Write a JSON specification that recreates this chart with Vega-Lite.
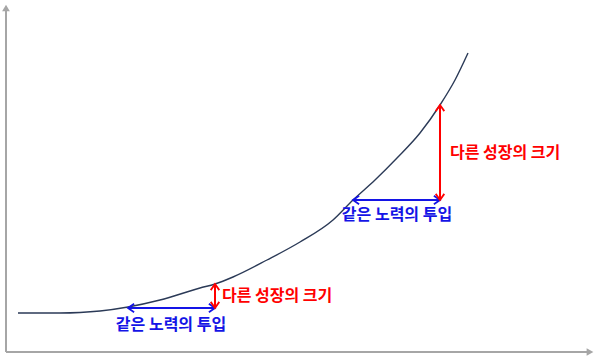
{
  "$schema": "https://vega.github.io/schema/vega-lite/v6.json",
  "width": 600,
  "height": 357,
  "padding": 0,
  "autosize": {"type": "none"},
  "background": "white",
  "config": {"view": {"stroke": null}},
  "datasets": {
    "curve": [
      {"x": 18, "y": 44}, {"x": 60, "y": 44}, {"x": 80, "y": 44.5}, {"x": 100, "y": 46},
      {"x": 128, "y": 50}, {"x": 160, "y": 57}, {"x": 200, "y": 69}, {"x": 215, "y": 73},
      {"x": 233, "y": 80}, {"x": 267, "y": 97}, {"x": 300, "y": 115}, {"x": 333, "y": 137},
      {"x": 353, "y": 157}, {"x": 375, "y": 177}, {"x": 397, "y": 199}, {"x": 420, "y": 224},
      {"x": 440, "y": 252}, {"x": 455, "y": 277}, {"x": 468, "y": 304}
    ],
    "axes": [
      {"x": 6, "y": 5, "x2": 6, "y2": 347},
      {"x": 6, "y": 5, "x2": 588, "y2": 5}
    ],
    "axisHeads": [
      {"x": 6, "y": 349, "dir": "up"},
      {"x": 590, "y": 5, "dir": "right"}
    ],
    "arrows": [
      {"x": 128, "y": 49, "x2": 215, "y2": 49, "kind": "effort"},
      {"x": 353, "y": 157, "x2": 440, "y2": 157, "kind": "effort"},
      {"x": 215, "y": 49, "x2": 215, "y2": 73, "kind": "growth"},
      {"x": 440, "y": 157, "x2": 440, "y2": 252, "kind": "growth"}
    ],
    "heads": [
      {"x": 128, "y": 49, "dir": "left", "kind": "effort"},
      {"x": 215, "y": 49, "dir": "right", "kind": "effort"},
      {"x": 353, "y": 157, "dir": "left", "kind": "effort"},
      {"x": 440, "y": 157, "dir": "right", "kind": "effort"},
      {"x": 215, "y": 49, "dir": "down", "kind": "growth"},
      {"x": 215, "y": 73, "dir": "up", "kind": "growth"},
      {"x": 440, "y": 157, "dir": "down", "kind": "growth"},
      {"x": 440, "y": 252, "dir": "up", "kind": "growth"}
    ],
    "labels": [
      {"x": 222, "y": 61, "text": "다른 성장의 크기", "kind": "growth"},
      {"x": 450, "y": 204, "text": "다른 성장의 크기", "kind": "growth"},
      {"x": 171, "y": 32, "text": "같은 노력의 투입", "kind": "effort"},
      {"x": 397, "y": 142, "text": "같은 노력의 투입", "kind": "effort"}
    ]
  },
  "layer": [
    {
      "data": {"name": "axes"},
      "mark": {"type": "rule", "color": "#a6a6a6", "strokeWidth": 2},
      "encoding": {
        "x": {"field": "x", "type": "quantitative", "scale": {"domain": [0, 600], "nice": false, "zero": false}, "axis": null},
        "y": {"field": "y", "type": "quantitative", "scale": {"domain": [0, 357], "nice": false, "zero": false}, "axis": null},
        "x2": {"field": "x2"},
        "y2": {"field": "y2"}
      }
    },
    {
      "data": {"name": "axisHeads"},
      "mark": {"type": "point", "filled": true, "color": "#a6a6a6", "opacity": 1, "size": 60},
      "encoding": {
        "x": {"field": "x", "type": "quantitative"},
        "y": {"field": "y", "type": "quantitative"},
        "shape": {"field": "dir", "type": "nominal", "scale": {"domain": ["up", "right"], "range": ["triangle-up", "triangle-right"]}, "legend": null}
      }
    },
    {
      "data": {"name": "curve"},
      "mark": {"type": "line", "color": "#2b3a57", "strokeWidth": 1.4, "interpolate": "monotone"},
      "encoding": {
        "x": {"field": "x", "type": "quantitative"},
        "y": {"field": "y", "type": "quantitative"}
      }
    },
    {
      "data": {"name": "arrows"},
      "mark": {"type": "rule", "strokeWidth": 2},
      "encoding": {
        "x": {"field": "x", "type": "quantitative"},
        "y": {"field": "y", "type": "quantitative"},
        "x2": {"field": "x2"},
        "y2": {"field": "y2"},
        "color": {"field": "kind", "type": "nominal", "scale": {"domain": ["effort", "growth"], "range": ["#1414e6", "#ff0000"]}, "legend": null}
      }
    },
    {
      "data": {"name": "heads"},
      "transform": [{"filter": "datum.dir === 'right'"}],
      "mark": {"type": "point", "shape": "M-1,-0.7L0,0L-1,0.7", "filled": false, "strokeWidth": 1.8, "opacity": 1, "size": 150},
      "encoding": {
        "x": {"field": "x", "type": "quantitative"},
        "y": {"field": "y", "type": "quantitative"},
        "color": {"field": "kind", "type": "nominal", "scale": {"domain": ["effort", "growth"], "range": ["#1414e6", "#ff0000"]}, "legend": null}
      }
    },
    {
      "data": {"name": "heads"},
      "transform": [{"filter": "datum.dir === 'left'"}],
      "mark": {"type": "point", "shape": "M1,-0.7L0,0L1,0.7", "filled": false, "strokeWidth": 1.8, "opacity": 1, "size": 150},
      "encoding": {
        "x": {"field": "x", "type": "quantitative"},
        "y": {"field": "y", "type": "quantitative"},
        "color": {"field": "kind", "type": "nominal", "scale": {"domain": ["effort", "growth"], "range": ["#1414e6", "#ff0000"]}, "legend": null}
      }
    },
    {
      "data": {"name": "heads"},
      "transform": [{"filter": "datum.dir === 'up'"}],
      "mark": {"type": "point", "shape": "M-0.7,1L0,0L0.7,1", "filled": false, "strokeWidth": 1.8, "opacity": 1, "size": 150},
      "encoding": {
        "x": {"field": "x", "type": "quantitative"},
        "y": {"field": "y", "type": "quantitative"},
        "color": {"field": "kind", "type": "nominal", "scale": {"domain": ["effort", "growth"], "range": ["#1414e6", "#ff0000"]}, "legend": null}
      }
    },
    {
      "data": {"name": "heads"},
      "transform": [{"filter": "datum.dir === 'down'"}],
      "mark": {"type": "point", "shape": "M-0.7,-1L0,0L0.7,-1", "filled": false, "strokeWidth": 1.8, "opacity": 1, "size": 150},
      "encoding": {
        "x": {"field": "x", "type": "quantitative"},
        "y": {"field": "y", "type": "quantitative"},
        "color": {"field": "kind", "type": "nominal", "scale": {"domain": ["effort", "growth"], "range": ["#1414e6", "#ff0000"]}, "legend": null}
      }
    },
    {
      "data": {"name": "labels"},
      "transform": [{"filter": "datum.kind === 'growth'"}],
      "mark": {"type": "text", "align": "left", "baseline": "middle", "font": "Noto Sans CJK KR", "fontSize": 16, "fontWeight": "bold"},
      "encoding": {
        "x": {"field": "x", "type": "quantitative"},
        "y": {"field": "y", "type": "quantitative"},
        "text": {"field": "text"},
        "color": {"field": "kind", "type": "nominal", "scale": {"domain": ["effort", "growth"], "range": ["#1414e6", "#ff0000"]}, "legend": null}
      }
    },
    {
      "data": {"name": "labels"},
      "transform": [{"filter": "datum.kind === 'effort'"}],
      "mark": {"type": "text", "align": "center", "baseline": "middle", "font": "Noto Sans CJK KR", "fontSize": 16, "fontWeight": "bold"},
      "encoding": {
        "x": {"field": "x", "type": "quantitative"},
        "y": {"field": "y", "type": "quantitative"},
        "text": {"field": "text"},
        "color": {"field": "kind", "type": "nominal", "scale": {"domain": ["effort", "growth"], "range": ["#1414e6", "#ff0000"]}, "legend": null}
      }
    }
  ]
}
